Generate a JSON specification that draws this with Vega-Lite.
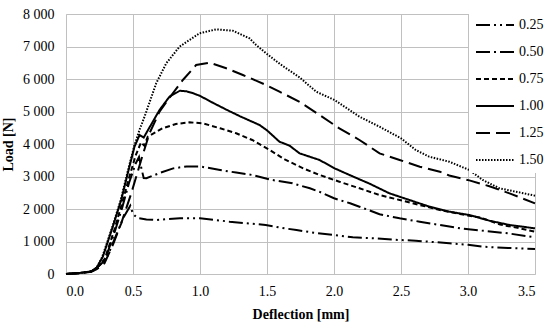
{
  "$schema": "https://vega.github.io/schema/vega-lite/v6.json",
  "width": 469,
  "height": 260,
  "autosize": {"type": "none"},
  "padding": {"left": 66, "top": 14, "right": 15, "bottom": 51},
  "background": "white",
  "config": {
    "font": "Liberation Serif",
    "view": {"stroke": null},
    "axis": {"labelFont": "Liberation Serif", "titleFont": "Liberation Serif", "labelFontSize": 14, "titleFontSize": 14, "labelColor": "#000", "titleColor": "#000", "gridColor": "#c0c0c0", "gridWidth": 1, "domainColor": "#c0c0c0", "ticks": false, "titleFontWeight": "bold"}
  },
  "data": {"values": [
    {"s":"0.25","x":0,"y":0},{"s":"0.25","x":0.1,"y":30},{"s":"0.25","x":0.19,"y":80},{"s":"0.25","x":0.23,"y":190},{"s":"0.25","x":0.3,"y":450},{"s":"0.25","x":0.37,"y":1150},{"s":"0.25","x":0.43,"y":1750},{"s":"0.25","x":0.48,"y":2100},{"s":"0.25","x":0.5,"y":1850},{"s":"0.25","x":0.53,"y":1730},{"s":"0.25","x":0.6,"y":1680},{"s":"0.25","x":0.67,"y":1660},{"s":"0.25","x":0.75,"y":1690},{"s":"0.25","x":0.85,"y":1713},{"s":"0.25","x":1.0,"y":1713},{"s":"0.25","x":1.1,"y":1670},{"s":"0.25","x":1.22,"y":1610},{"s":"0.25","x":1.35,"y":1560},{"s":"0.25","x":1.49,"y":1508},{"s":"0.25","x":1.63,"y":1405},{"s":"0.25","x":1.72,"y":1354},{"s":"0.25","x":1.85,"y":1270},{"s":"0.25","x":2.0,"y":1200},{"s":"0.25","x":2.14,"y":1128},{"s":"0.25","x":2.3,"y":1098},{"s":"0.25","x":2.49,"y":1046},{"s":"0.25","x":2.61,"y":1025},{"s":"0.25","x":2.71,"y":994},{"s":"0.25","x":2.86,"y":945},{"s":"0.25","x":3.0,"y":900},{"s":"0.25","x":3.11,"y":840},{"s":"0.25","x":3.3,"y":800},{"s":"0.25","x":3.5,"y":770},
    {"s":"0.50","x":0,"y":0},{"s":"0.50","x":0.1,"y":30},{"s":"0.50","x":0.19,"y":80},{"s":"0.50","x":0.23,"y":190},{"s":"0.50","x":0.29,"y":420},{"s":"0.50","x":0.36,"y":1250},{"s":"0.50","x":0.42,"y":2050},{"s":"0.50","x":0.47,"y":2800},{"s":"0.50","x":0.52,"y":3400},{"s":"0.50","x":0.545,"y":3600},{"s":"0.50","x":0.56,"y":3300},{"s":"0.50","x":0.58,"y":2950},{"s":"0.50","x":0.6,"y":2945},{"s":"0.50","x":0.7,"y":3110},{"s":"0.50","x":0.8,"y":3250},{"s":"0.50","x":0.9,"y":3310},{"s":"0.50","x":1.0,"y":3310},{"s":"0.50","x":1.15,"y":3200},{"s":"0.50","x":1.27,"y":3120},{"s":"0.50","x":1.39,"y":3046},{"s":"0.50","x":1.54,"y":2892},{"s":"0.50","x":1.69,"y":2790},{"s":"0.50","x":1.82,"y":2637},{"s":"0.50","x":1.89,"y":2532},{"s":"0.50","x":2.0,"y":2330},{"s":"0.50","x":2.12,"y":2175},{"s":"0.50","x":2.19,"y":2071},{"s":"0.50","x":2.34,"y":1840},{"s":"0.50","x":2.49,"y":1713},{"s":"0.50","x":2.64,"y":1610},{"s":"0.50","x":2.79,"y":1508},{"s":"0.50","x":2.94,"y":1405},{"s":"0.50","x":3.09,"y":1340},{"s":"0.50","x":3.3,"y":1250},{"s":"0.50","x":3.5,"y":1128},
    {"s":"0.75","x":0,"y":0},{"s":"0.75","x":0.1,"y":30},{"s":"0.75","x":0.19,"y":80},{"s":"0.75","x":0.23,"y":195},{"s":"0.75","x":0.29,"y":470},{"s":"0.75","x":0.36,"y":1350},{"s":"0.75","x":0.42,"y":2200},{"s":"0.75","x":0.47,"y":2950},{"s":"0.75","x":0.52,"y":3650},{"s":"0.75","x":0.56,"y":4050},{"s":"0.75","x":0.585,"y":3950},{"s":"0.75","x":0.61,"y":4225},{"s":"0.75","x":0.72,"y":4483},{"s":"0.75","x":0.82,"y":4615},{"s":"0.75","x":0.92,"y":4667},{"s":"0.75","x":1.02,"y":4637},{"s":"0.75","x":1.15,"y":4483},{"s":"0.75","x":1.27,"y":4330},{"s":"0.75","x":1.39,"y":4123},{"s":"0.75","x":1.52,"y":3815},{"s":"0.75","x":1.64,"y":3508},{"s":"0.75","x":1.77,"y":3252},{"s":"0.75","x":1.89,"y":3050},{"s":"0.75","x":2.04,"y":2840},{"s":"0.75","x":2.19,"y":2637},{"s":"0.75","x":2.34,"y":2430},{"s":"0.75","x":2.49,"y":2277},{"s":"0.75","x":2.64,"y":2123},{"s":"0.75","x":2.79,"y":1970},{"s":"0.75","x":2.94,"y":1846},{"s":"0.75","x":3.01,"y":1790},{"s":"0.75","x":3.09,"y":1740},{"s":"0.75","x":3.24,"y":1520},{"s":"0.75","x":3.37,"y":1420},{"s":"0.75","x":3.5,"y":1302},
    {"s":"1.00","x":0,"y":0},{"s":"1.00","x":0.1,"y":30},{"s":"1.00","x":0.19,"y":80},{"s":"1.00","x":0.23,"y":200},{"s":"1.00","x":0.275,"y":533},{"s":"1.00","x":0.349,"y":1455},{"s":"1.00","x":0.412,"y":2277},{"s":"1.00","x":0.461,"y":3098},{"s":"1.00","x":0.511,"y":3917},{"s":"1.00","x":0.549,"y":4277},{"s":"1.00","x":0.58,"y":4200},{"s":"1.00","x":0.698,"y":5046},{"s":"1.00","x":0.772,"y":5455},{"s":"1.00","x":0.85,"y":5640},{"s":"1.00","x":0.9,"y":5620},{"s":"1.00","x":0.95,"y":5560},{"s":"1.00","x":1.0,"y":5480},{"s":"1.00","x":1.1,"y":5260},{"s":"1.00","x":1.2,"y":5050},{"s":"1.00","x":1.3,"y":4850},{"s":"1.00","x":1.444,"y":4585},{"s":"1.00","x":1.5,"y":4420},{"s":"1.00","x":1.593,"y":4070},{"s":"1.00","x":1.668,"y":3950},{"s":"1.00","x":1.743,"y":3713},{"s":"1.00","x":1.892,"y":3508},{"s":"1.00","x":2.004,"y":3252},{"s":"1.00","x":2.116,"y":3046},{"s":"1.00","x":2.265,"y":2780},{"s":"1.00","x":2.414,"y":2482},{"s":"1.00","x":2.563,"y":2277},{"s":"1.00","x":2.713,"y":2071},{"s":"1.00","x":2.862,"y":1917},{"s":"1.00","x":3.011,"y":1815},{"s":"1.00","x":3.16,"y":1640},{"s":"1.00","x":3.31,"y":1508},{"s":"1.00","x":3.5,"y":1405},
    {"s":"1.25","x":0,"y":0},{"s":"1.25","x":0.1,"y":25},{"s":"1.25","x":0.19,"y":70},{"s":"1.25","x":0.23,"y":150},{"s":"1.25","x":0.287,"y":330},{"s":"1.25","x":0.35,"y":900},{"s":"1.25","x":0.412,"y":1560},{"s":"1.25","x":0.487,"y":2482},{"s":"1.25","x":0.561,"y":3508},{"s":"1.25","x":0.623,"y":4330},{"s":"1.25","x":0.698,"y":4995},{"s":"1.25","x":0.772,"y":5420},{"s":"1.25","x":0.872,"y":5970},{"s":"1.25","x":0.971,"y":6430},{"s":"1.25","x":1.071,"y":6503},{"s":"1.25","x":1.196,"y":6329},{"s":"1.25","x":1.32,"y":6123},{"s":"1.25","x":1.494,"y":5815},{"s":"1.25","x":1.593,"y":5610},{"s":"1.25","x":1.743,"y":5300},{"s":"1.25","x":1.892,"y":4892},{"s":"1.25","x":2.04,"y":4483},{"s":"1.25","x":2.19,"y":4123},{"s":"1.25","x":2.34,"y":3713},{"s":"1.25","x":2.49,"y":3508},{"s":"1.25","x":2.64,"y":3300},{"s":"1.25","x":2.79,"y":3148},{"s":"1.25","x":2.86,"y":3030},{"s":"1.25","x":3.01,"y":2880},{"s":"1.25","x":3.16,"y":2700},{"s":"1.25","x":3.31,"y":2482},{"s":"1.25","x":3.5,"y":2175},
    {"s":"1.50","x":0,"y":0},{"s":"1.50","x":0.1,"y":30},{"s":"1.50","x":0.19,"y":80},{"s":"1.50","x":0.23,"y":200},{"s":"1.50","x":0.27,"y":520},{"s":"1.50","x":0.35,"y":1500},{"s":"1.50","x":0.41,"y":2300},{"s":"1.50","x":0.46,"y":3150},{"s":"1.50","x":0.51,"y":3950},{"s":"1.50","x":0.55,"y":4450},{"s":"1.50","x":0.586,"y":4840},{"s":"1.50","x":0.673,"y":5867},{"s":"1.50","x":0.748,"y":6483},{"s":"1.50","x":0.847,"y":6994},{"s":"1.50","x":0.996,"y":7405},{"s":"1.50","x":1.121,"y":7528},{"s":"1.50","x":1.245,"y":7487},{"s":"1.50","x":1.369,"y":7251},{"s":"1.50","x":1.419,"y":7046},{"s":"1.50","x":1.494,"y":6790},{"s":"1.50","x":1.6,"y":6450},{"s":"1.50","x":1.743,"y":6050},{"s":"1.50","x":1.867,"y":5610},{"s":"1.50","x":2.004,"y":5354},{"s":"1.50","x":2.19,"y":4840},{"s":"1.50","x":2.34,"y":4532},{"s":"1.50","x":2.5,"y":4175},{"s":"1.50","x":2.61,"y":3815},{"s":"1.50","x":2.71,"y":3610},{"s":"1.50","x":2.86,"y":3455},{"s":"1.50","x":3.01,"y":3200},{"s":"1.50","x":3.11,"y":2892},{"s":"1.50","x":3.235,"y":2637},{"s":"1.50","x":3.5,"y":2410}
  ]},
  "mark": {"type": "line", "color": "#000", "strokeCap": "butt"},
  "encoding": {
    "x": {"field": "x", "type": "quantitative", "scale": {"domain": [0, 3.5], "nice": false},
      "axis": {"title": "Deflection [mm]", "values": [0,0.5,1,1.5,2,2.5,3,3.5], "format": ".1f", "labelPadding": 10, "titlePadding": 9}},
    "y": {"field": "y", "type": "quantitative", "scale": {"domain": [0, 8000], "nice": false},
      "axis": {"title": "Load [N]", "values": [0,1000,2000,3000,4000,5000,6000,7000,8000], "labelExpr": "replace(format(datum.value, ','), ',', ' ')", "labelPadding": 12, "titlePadding": 7}},
    "detail": {"field": "s"},
    "strokeDash": {"field": "s", "type": "nominal",
      "scale": {"domain": ["0.25","0.50","0.75","1.00","1.25","1.50"], "range": [[14,4,2,4,2,4],[14,4,2,4],[5,3],[1,0],[14,6],[1.5,1.5]]},
      "legend": {"title": null, "orient": "none", "legendX": 403, "legendY": -15, "padding": 6, "fillColor": "white", "symbolType": "stroke", "symbolSize": 1444, "symbolStrokeWidth": 2, "symbolStrokeColor": "#000", "rowPadding": -15.5, "labelFont": "Liberation Serif", "labelFontSize": 14, "labelColor": "#000", "labelOffset": 4}},
    "strokeWidth": {"field": "s", "type": "nominal", "scale": {"domain": ["0.25","0.50","0.75","1.00","1.25","1.50"], "range": [2,2,2,2,2,1.5]}, "legend": null}
  }
}
